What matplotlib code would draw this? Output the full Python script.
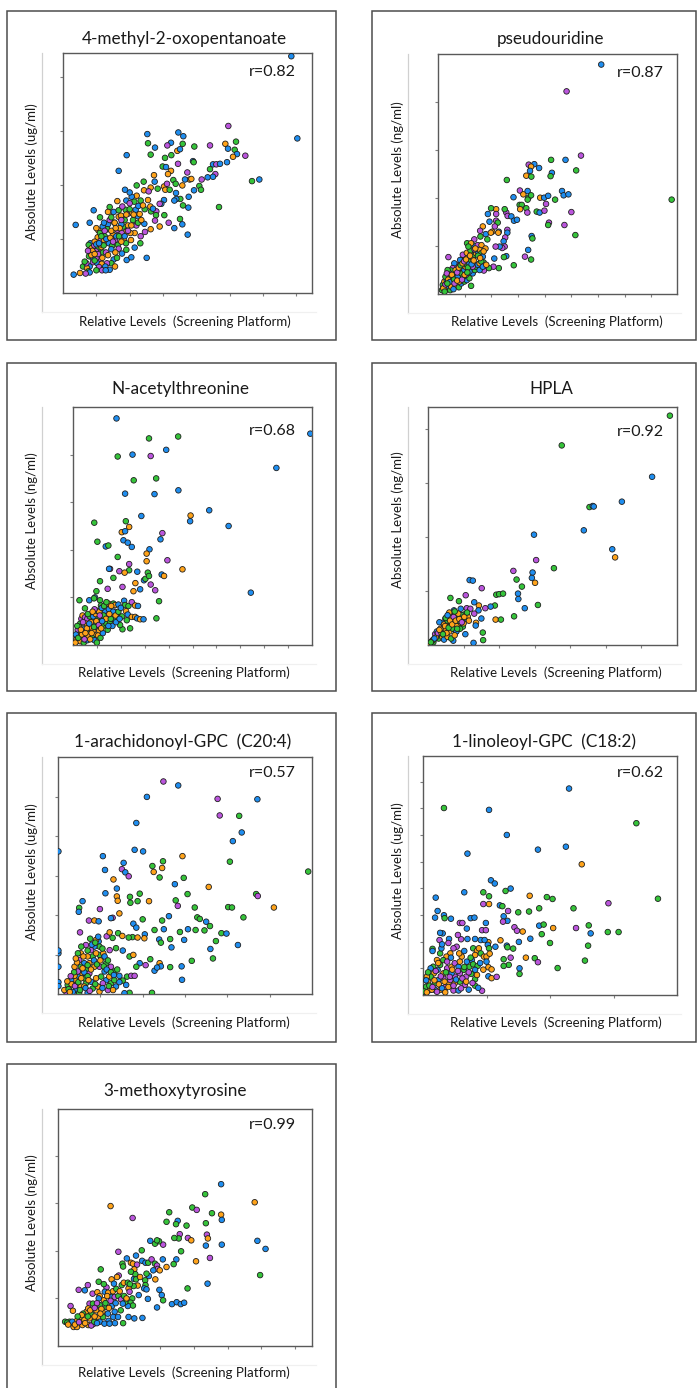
import matplotlib
matplotlib.use("Agg")
import matplotlib.pyplot as plt
from matplotlib.lines import Line2D
from matplotlib.patches import Rectangle

plt.rcParams['font.family'] = ['Lato', 'DejaVu Sans']

# ---------------------------------------------------------------------------
# Data: (relative level, absolute level, sample group) for each metabolite.
# Values are in axis-tick units of each panel.
# ---------------------------------------------------------------------------
GROUP_COLORS = {'b': '#1f8ef0', 'g': '#35c43a', 'o': '#ffa31a', 'p': '#bb55dd'}

titles = ['4-methyl-2-oxopentanoate', 'pseudouridine', 'N-acetylthreonine', 'HPLA',
          '1-arachidonoyl-GPC  (C20:4)', '1-linoleoyl-GPC  (C18:2)', '3-methoxytyrosine']
units = ['ug/ml', 'ng/ml', 'ng/ml', 'ng/ml', 'ug/ml', 'ug/ml', 'ng/ml']
r_values = [0.82, 0.87, 0.68, 0.92, 0.57, 0.62, 0.99]
x_limits = [7.47, 8.96, 10.0, 7.0, 6.0, 4.0, 7.49]
y_limits = [4.44, 5.01, 5.0, 4.4, 6.0, 8.96, 4.98]

methyl_oxopentanoate = [
    (6.85, 4.38, 'b'), (7.03, 2.86, 'b'), (4.96, 3.09, 'p'), (5.67, 2.07, 'g'), (5.89, 2.10, 'b'),
    (4.68, 1.59, 'g'), (0.38, 1.26, 'b'), (2.51, 0.65, 'b'), (1.91, 2.55, 'b'), (1.67, 2.26, 'b'),
    (0.92, 1.53, 'b'), (3.74, 1.08, 'b'), (0.32, 0.34, 'b'), (2.53, 2.94, 'b'), (2.55, 2.77, 'g'),
    (2.76, 2.69, 'b'), (2.63, 2.56, 'g'), (3.46, 2.97, 'b'), (3.61, 2.90, 'b'), (3.24, 2.78, 'b'),
    (3.13, 2.73, 'p'), (3.59, 2.76, 'g'), (3.43, 2.63, 'o'), (3.51, 2.66, 'b'), (3.94, 2.71, 'g'),
    (4.41, 2.73, 'p'), (4.87, 2.76, 'o'), (4.95, 2.67, 'b'), (5.19, 2.80, 'g'), (5.15, 2.65, 'g'),
    (5.22, 2.57, 'b'), (5.10, 2.52, 'o'), (5.47, 2.54, 'p'), (3.06, 2.50, 'g'), (3.25, 2.55, 'g'),
    (3.90, 2.44, 'b'), (3.92, 2.42, 'g'), (3.45, 2.39, 'p'), (2.99, 2.34, 'g'), (3.09, 2.33, 'b'),
    (4.50, 2.38, 'b'), (4.60, 2.38, 'p'), (4.71, 2.39, 'b'), (4.92, 2.42, 'b'), (4.41, 2.29, 'g'),
    (4.57, 2.20, 'p'), (4.34, 2.14, 'b'), (4.50, 2.15, 'b'), (4.16, 2.10, 'p'), (4.09, 1.98, 'g'),
    (4.14, 1.91, 'g'), (3.93, 1.90, 'b'), (3.80, 2.10, 'o'), (3.85, 2.11, 'o'), (3.73, 2.23, 'p'),
    (3.66, 2.10, 'b'), (3.77, 1.78, 'b'), (3.76, 1.58, 'b'), (3.60, 1.62, 'g'), (3.31, 2.09, 'g'),
    (3.24, 2.26, 'o'), (3.15, 2.20, 'o'), (2.73, 2.18, 'o'), (2.75, 2.06, 'b'), (2.63, 1.95, 'o'),
    (2.84, 1.93, 'g'), (3.03, 1.97, 'o'), (3.07, 1.91, 'o'), (3.12, 2.02, 'p'), (3.20, 1.91, 'g'),
    (3.58, 1.99, 'o'), (3.38, 2.02, 'g'), (3.52, 1.74, 'g'), (3.40, 1.74, 'b'), (3.34, 1.71, 'b'),
    (3.39, 1.85, 'b'), (3.03, 1.72, 'b'), (2.95, 1.65, 'b'), (3.04, 1.44, 'g'), (3.17, 1.30, 'p'),
    (3.34, 1.20, 'b'), (3.51, 1.37, 'g'), (3.58, 1.27, 'b'), (2.90, 1.65, 'p'), (2.80, 1.51, 'p'),
    (2.64, 1.51, 'g'), (2.79, 1.44, 'g'), (2.76, 1.34, 'p'), (2.90, 1.23, 'o'), (2.63, 1.18, 'o'),
    (2.44, 1.28, 'b'), (2.46, 1.13, 'p'), (2.25, 1.42, 'b'), (2.33, 1.71, 'g'), (2.43, 1.90, 'o'),
    (2.42, 2.06, 'g'), (2.21, 1.99, 'g'), (2.21, 1.80, 'o'), (2.06, 1.78, 'b'), (2.14, 1.69, 'g'),
    (1.90, 1.71, 'b'), (2.00, 1.86, 'b'), (1.86, 1.91, 'b'), (2.00, 1.66, 'p'), (1.88, 1.54, 'g'),
    (1.96, 1.47, 'p'), (2.07, 1.49, 'o'), (2.18, 1.54, 'b'), (2.26, 1.61, 'b'), (2.30, 1.46, 'o'),
    (2.15, 1.11, 'o'), (2.02, 1.11, 'o'), (1.90, 1.14, 'o'), (1.81, 1.23, 'g'), (1.75, 1.27, 'b'),
    (1.67, 1.41, 'o'), (1.63, 1.70, 'o'), (1.52, 1.50, 'b'), (1.54, 1.30, 'g'), (1.40, 1.59, 'g'),
    (1.63, 1.17, 'p'), (1.76, 1.11, 'p'), (1.83, 0.98, 'o'), (1.89, 0.92, 'g'), (2.04, 0.98, 'o'),
    (2.15, 0.84, 'b'), (2.32, 0.92, 'g'), (2.33, 1.05, 'p'), (1.35, 1.27, 'b'), (1.33, 1.18, 'g'),
    (1.50, 1.08, 'o'), (1.19, 1.23, 'b'), (1.11, 1.40, 'g'), (1.06, 1.16, 'o'), (1.04, 1.03, 'o'),
    (1.13, 0.97, 'p'), (1.23, 0.98, 'o'), (1.38, 0.92, 'b'), (1.47, 0.87, 'g'), (1.56, 0.98, 'p'),
    (1.65, 0.89, 'g'), (1.67, 0.82, 'p'), (0.80, 1.30, 'b'), (0.82, 0.92, 'b'), (0.77, 0.89, 'g'),
    (0.86, 0.83, 'o'), (0.94, 0.88, 'p'), (1.05, 0.82, 'g'), (0.99, 0.77, 'p'), (1.20, 0.75, 'g'),
    (1.29, 0.75, 'p'), (1.45, 0.81, 'b'), (1.57, 0.75, 'o'), (1.77, 0.73, 'b'), (1.91, 0.61, 'b'),
    (2.05, 0.66, 'b'), (1.52, 0.62, 'b'), (1.45, 0.55, 'g'), (1.32, 0.55, 'p'), (1.10, 0.62, 'p'),
    (1.00, 0.65, 'p'), (0.88, 0.65, 'b'), (0.78, 0.68, 'g'), (0.90, 0.57, 'p'), (1.03, 0.55, 'b'),
    (1.16, 0.54, 'o'), (1.27, 0.49, 'b'), (1.56, 0.49, 'o'), (1.40, 0.43, 'b'), (1.08, 0.48, 'p'),
    (1.17, 0.42, 'p'), (1.28, 0.42, 'b'), (1.00, 0.42, 'g'), (0.80, 0.49, 'b'), (0.60, 0.49, 'g'),
    (0.72, 0.46, 'o'), (0.76, 0.40, 'g'), (0.80, 0.38, 'b'), (0.68, 0.36, 'p'), (0.51, 0.37, 'o'),
    (0.93, 0.74, 'g'), (1.11, 1.11, 'g'), (1.23, 1.30, 'b'), (1.40, 1.35, 'p'), (1.67, 1.53, 'g'),
    (1.74, 1.43, 'o'), (1.78, 1.60, 'p'), (2.57, 1.88, 'p'), (2.55, 1.72, 'o'), (2.62, 1.60, 'o'),
    (2.70, 1.56, 'b'), (0.95, 0.95, 'o'), (1.15, 0.85, 'o'), (1.25, 1.05, 'g'), (1.35, 0.70, 'o'),
    (1.45, 1.15, 'o'), (1.60, 1.05, 'b'), (1.70, 1.20, 'o'), (1.85, 1.35, 'g'), (1.95, 1.25, 'o'),
    (2.10, 1.35, 'g'), (2.20, 1.25, 'p'), (1.00, 0.90, 'b'), (0.88, 0.78, 'o'), (1.18, 0.65, 'o'),
    (1.62, 0.65, 'g'), (0.70, 0.55, 'p'), (0.85, 0.70, 'o'), (0.95, 0.60, 'g'), (1.05, 0.72, 'p'),
    (1.12, 0.90, 'o'), (1.22, 0.88, 'g'), (1.30, 1.00, 'b'), (1.42, 1.02, 'o'), (1.50, 0.95, 'p'),
    (1.58, 1.20, 'o'), (1.68, 1.05, 'g'), (1.75, 0.95, 'o'), (1.85, 1.05, 'b'), (1.95, 1.15, 'p'),
    (2.05, 1.25, 'o'), (2.12, 1.45, 'o'), (2.25, 1.30, 'g'), (2.35, 1.35, 'o'), (2.45, 1.55, 'g'),
    (2.40, 1.62, 'o'), (1.55, 1.30, 'o'), (1.45, 1.40, 'g'), (1.35, 1.50, 'o'), (1.25, 1.15, 'p'),
    (1.15, 1.05, 'g'), (0.95, 0.72, 'o'), (1.08, 0.92, 'b'), (1.75, 1.35, 'p'), (1.90, 1.45, 'o'),
    (2.00, 1.55, 'g'), (0.65, 0.58, 'g'), (0.75, 0.78, 'p'), (1.00, 1.20, 'o'), (1.90, 0.80, 'g'),
]

pseudouridine = [
    (6.12, 4.79, 'b'), (4.82, 4.23, 'p'), (8.76, 1.97, 'g'), (5.36, 2.89, 'p'), (4.78, 2.80, 'b'),
    (4.24, 2.80, 'g'), (5.18, 2.58, 'g'), (4.27, 2.53, 'b'), (4.22, 2.46, 'g'), (3.61, 2.71, 'b'),
    (3.40, 2.70, 'p'), (3.49, 2.66, 'o'), (3.79, 2.63, 'b'), (3.45, 2.57, 'b'), (3.31, 2.47, 'o'),
    (3.50, 2.45, 'g'), (2.58, 2.38, 'g'), (3.07, 2.16, 'p'), (3.20, 2.08, 'o'), (3.36, 2.15, 'b'),
    (3.39, 2.01, 'g'), (3.49, 2.06, 'g'), (3.36, 1.97, 'g'), (2.83, 2.02, 'b'), (3.06, 1.86, 'g'),
    (3.14, 1.86, 'g'), (3.08, 1.77, 'o'), (3.31, 1.79, 'g'), (3.35, 1.70, 'p'), (3.70, 1.72, 'g'),
    (3.81, 1.70, 'b'), (3.83, 2.01, 'o'), (3.98, 2.01, 'b'), (4.13, 2.05, 'b'), (4.05, 1.88, 'p'),
    (3.99, 1.74, 'p'), (4.39, 1.97, 'g'), (4.65, 2.15, 'b'), (4.71, 2.06, 'b'), (4.89, 2.08, 'b'),
    (5.00, 1.71, 'p'), (4.16, 1.49, 'p'), (4.13, 1.44, 'g'), (4.74, 1.44, 'p'), (5.15, 1.23, 'g'),
    (3.51, 1.21, 'b'), (3.54, 1.16, 'g'), (3.38, 0.92, 'b'), (3.49, 0.72, 'g'), (3.26, 0.78, 'p'),
    (2.84, 0.60, 'g'), (2.56, 0.79, 'b'), (2.47, 0.77, 'g'), (2.11, 0.74, 'b'), (2.28, 0.54, 'g'),
    (2.08, 0.57, 'p'), (1.91, 0.54, 'g'), (1.72, 0.49, 'p'), (1.71, 0.66, 'g'), (2.56, 1.70, 'p'),
    (2.61, 1.63, 'p'), (2.75, 1.62, 'b'), (2.85, 1.53, 'b'), (2.96, 1.55, 'b'), (2.50, 1.77, 'g'),
    (2.18, 1.77, 'o'), (2.18, 1.67, 'p'), (1.99, 1.79, 'g'), (1.87, 1.67, 'b'), (1.93, 1.51, 'b'),
    (2.18, 1.53, 'p'), (2.24, 1.49, 'g'), (2.13, 1.41, 'p'), (2.60, 1.34, 'p'), (2.60, 1.28, 'b'),
    (2.28, 1.30, 'b'), (2.26, 1.28, 'o'), (2.03, 1.30, 'o'), (1.68, 1.41, 'o'), (1.58, 1.32, 'p'),
    (1.79, 1.25, 'b'), (1.98, 1.28, 'o'), (1.85, 1.14, 'g'), (1.59, 1.20, 'g'), (2.52, 1.18, 'p'),
    (2.46, 1.10, 'b'), (2.50, 0.99, 'p'), (2.41, 0.96, 'p'), (2.31, 0.99, 'b'), (2.16, 0.99, 'p'),
    (1.36, 1.14, 'p'), (1.09, 1.06, 'g'), (1.22, 0.99, 'o'), (1.37, 1.00, 'b'), (1.49, 1.02, 'p'),
    (1.63, 1.02, 'o'), (1.78, 0.95, 'o'), (0.39, 0.77, 'p'),
    (0.18, 0.19, 'g'), (0.24, 0.26, 'o'), (0.33, 0.29, 'b'), (0.30, 0.19, 'o'), (0.40, 0.22, 'g'),
    (0.49, 0.26, 'o'), (0.43, 0.36, 'b'), (0.55, 0.33, 'g'), (0.61, 0.40, 'o'), (0.68, 0.43, 'g'),
    (0.74, 0.36, 'b'), (0.80, 0.47, 'o'), (0.87, 0.43, 'g'), (0.93, 0.54, 'o'), (0.99, 0.50, 'b'),
    (1.03, 0.57, 'o'), (1.08, 0.61, 'g'), (1.12, 0.68, 'o'), (1.18, 0.64, 'b'), (1.24, 0.71, 'g'),
    (1.30, 0.75, 'o'), (1.37, 0.82, 'g'), (1.43, 0.85, 'o'), (1.49, 0.89, 'b'), (1.56, 0.92, 'o'),
    (1.62, 0.85, 'g'), (1.68, 0.78, 'b'), (1.71, 0.89, 'o'), (0.80, 0.61, 'p'), (0.90, 0.71, 'g'),
    (0.68, 0.57, 'p'), (0.61, 0.64, 'b'), (0.55, 0.54, 'p'), (0.49, 0.49, 'g'), (0.43, 0.43, 'p'),
    (0.36, 0.40, 'o'), (0.28, 0.36, 'g'), (0.24, 0.12, 'b'), (0.33, 0.10, 'o'), (0.43, 0.14, 'b'),
    (0.55, 0.17, 'g'), (0.68, 0.17, 'o'), (0.78, 0.14, 'g'), (0.87, 0.22, 'b'), (0.99, 0.26, 'g'),
    (1.08, 0.29, 'b'), (1.18, 0.33, 'g'), (1.30, 0.43, 'b'), (1.38, 0.50, 'g'), (1.43, 0.57, 'g'),
    (1.49, 0.61, 'b'), (1.56, 0.64, 'o'), (1.62, 0.68, 'g'), (1.30, 0.57, 'p'), (1.18, 0.47, 'b'),
    (1.05, 0.40, 'p'), (1.03, 0.75, 'g'), (1.12, 0.78, 'o'), (0.93, 0.82, 'p'), (1.08, 0.86, 'o'),
    (1.22, 0.91, 'g'), (1.37, 0.93, 'p'), (1.24, 1.06, 'o'), (1.14, 0.99, 'g'), (0.83, 0.71, 'b'),
    (0.74, 0.50, 'o'), (0.15, 0.08, 'g'), (0.46, 0.08, 'g'), (0.80, 0.26, 'o'), (0.95, 0.36, 'g'),
    (0.65, 0.26, 'p'), (0.36, 0.50, 'g'), (0.33, 0.43, 'p'), (1.24, 0.17, 'g'), (1.56, 0.50, 'b'),
    (1.68, 0.57, 'b'), (1.81, 0.61, 'o'),
    (0.20, 0.12, 'o'), (0.28, 0.20, 'p'), (0.38, 0.30, 'o'), (0.45, 0.25, 'b'), (0.52, 0.40, 'o'),
    (0.60, 0.30, 'g'), (0.66, 0.50, 'o'), (0.72, 0.45, 'p'), (0.78, 0.55, 'o'), (0.85, 0.60, 'g'),
    (0.92, 0.64, 'o'), (0.98, 0.68, 'p'), (1.05, 0.72, 'o'), (1.12, 0.55, 'g'), (1.20, 0.80, 'o'),
    (1.26, 0.62, 'b'), (1.34, 0.70, 'o'), (1.40, 0.95, 'o'), (1.50, 0.80, 'g'), (1.58, 0.75, 'o'),
    (0.50, 0.15, 'o'), (0.62, 0.22, 'p'), (0.72, 0.28, 'o'), (0.90, 0.30, 'p'), (1.00, 0.40, 'o'),
    (1.10, 0.45, 'g'), (0.35, 0.22, 'g'), (0.58, 0.10, 'b'), (0.25, 0.05, 'g'),
]

acetylthreonine = [
    (1.82, 4.76, 'b'), (3.18, 4.34, 'g'), (4.40, 4.38, 'g'), (3.90, 4.10, 'b'), (2.49, 4.00, 'b'),
    (1.87, 3.96, 'g'), (3.25, 3.97, 'p'), (9.93, 4.44, 'b'), (8.51, 3.72, 'b'), (2.54, 3.46, 'g'),
    (3.48, 3.50, 'g'), (2.18, 3.18, 'b'), (3.41, 3.17, 'b'), (4.41, 3.25, 'b'), (5.70, 2.83, 'b'),
    (4.92, 2.72, 'o'), (4.90, 2.60, 'b'), (6.51, 2.50, 'b'), (2.86, 2.71, 'b'), (0.89, 2.57, 'g'),
    (2.21, 2.60, 'g'), (2.35, 2.48, 'o'), (2.04, 2.37, 'o'), (2.18, 2.39, 'b'), (2.11, 2.20, 'b'),
    (2.29, 2.15, 'b'), (2.46, 2.06, 'b'), (1.02, 2.17, 'g'), (1.37, 2.07, 'b'), (1.48, 2.09, 'g'),
    (3.74, 2.35, 'p'), (3.66, 2.22, 'b'), (3.20, 2.01, 'b'), (3.08, 1.92, 'o'), (3.08, 1.76, 'o'),
    (1.87, 1.85, 'g'), (2.35, 1.70, 'p'), (2.35, 1.57, 'g'), (1.94, 1.55, 'p'), (2.16, 1.52, 'o'),
    (2.69, 1.54, 'b'), (3.95, 1.78, 'p'), (4.58, 1.59, 'o'), (3.71, 1.48, 'b'), (3.81, 1.45, 'o'),
    (1.55, 1.60, 'p'), (1.51, 1.60, 'b'), (1.69, 1.41, 'g'), (1.13, 1.34, 'g'), (2.61, 1.30, 'o'),
    (2.97, 1.36, 'b'), (3.03, 1.39, 'g'), (3.13, 1.52, 'g'), (3.18, 1.45, 'g'), (2.07, 1.22, 'p'),
    (2.53, 1.13, 'o'), (2.81, 1.17, 'b'), (3.25, 1.27, 'p'), (3.44, 1.15, 'p'), (1.45, 1.18, 'p'),
    (0.98, 1.13, 'g'), (0.92, 1.00, 'b'), (7.44, 1.10, 'b'), (3.60, 0.92, 'g'), (3.49, 0.56, 'g'),
    (0.27, 0.94, 'g'), (0.50, 0.77, 'g'), (0.68, 0.94, 'b'), (0.88, 0.98, 'g'), (1.13, 0.94, 'g'),
    (1.17, 0.83, 'g'), (1.38, 0.86, 'b'), (1.48, 0.87, 'o'), (1.69, 0.87, 'g'), (1.76, 0.84, 'o'),
    (1.90, 0.85, 'b'), (2.14, 0.93, 'b'), (2.18, 0.84, 'g'), (2.32, 0.82, 'g'), (2.46, 0.90, 'p'),
    (2.60, 0.83, 'o'), (2.72, 0.82, 'b'), (2.22, 0.71, 'o'), (2.29, 0.64, 'b'), (2.46, 0.59, 'o'),
    (2.60, 0.59, 'o'), (2.68, 0.56, 'b'), (2.81, 0.54, 'o'), (2.95, 0.54, 'b'), (2.25, 0.52, 'g'),
    (2.39, 0.35, 'g'), (2.07, 0.33, 'g'), (1.97, 0.42, 'g'),
    (0.15, 0.12, 'o'), (0.20, 0.20, 'b'), (0.25, 0.10, 'p'), (0.30, 0.25, 'o'), (0.35, 0.15, 'g'),
    (0.40, 0.30, 'p'), (0.45, 0.20, 'o'), (0.50, 0.35, 'b'), (0.55, 0.12, 'o'), (0.60, 0.28, 'g'),
    (0.65, 0.40, 'o'), (0.70, 0.22, 'p'), (0.75, 0.35, 'o'), (0.80, 0.50, 'g'), (0.85, 0.30, 'o'),
    (0.90, 0.45, 'b'), (0.95, 0.20, 'o'), (1.00, 0.38, 'p'), (1.05, 0.55, 'g'), (1.10, 0.30, 'o'),
    (1.15, 0.48, 'b'), (1.20, 0.60, 'o'), (1.25, 0.40, 'g'), (1.30, 0.55, 'o'), (1.35, 0.70, 'b'),
    (1.40, 0.45, 'g'), (1.45, 0.62, 'p'), (1.50, 0.75, 'b'), (1.55, 0.50, 'g'), (1.60, 0.65, 'o'),
    (1.65, 0.40, 'b'), (1.70, 0.55, 'g'), (1.75, 0.70, 'p'), (1.80, 0.48, 'b'), (1.85, 0.62, 'g'),
    (0.30, 0.45, 'g'), (0.35, 0.55, 'p'), (0.40, 0.62, 'o'), (0.50, 0.58, 'p'), (0.60, 0.55, 'p'),
    (0.70, 0.60, 'g'), (0.75, 0.48, 'o'), (0.85, 0.60, 'b'), (0.95, 0.65, 'o'), (1.00, 0.72, 'g'),
    (1.10, 0.70, 'o'), (1.20, 0.78, 'b'), (1.30, 0.82, 'g'), (0.25, 0.38, 'o'), (0.30, 0.08, 'o'),
    (0.45, 0.05, 'g'), (0.60, 0.10, 'b'), (0.65, 0.18, 'o'), (0.80, 0.15, 'g'), (0.90, 0.10, 'b'),
    (1.05, 0.20, 'o'), (1.15, 0.15, 'g'), (1.00, 0.05, 'g'), (0.20, 0.32, 'p'), (0.55, 0.45, 'o'),
    (1.25, 0.25, 'b'), (1.45, 0.32, 'g'), (0.12, 0.22, 'b'), (0.18, 0.40, 'g'), (0.90, 0.75, 'p'),
    (1.60, 0.82, 'o'), (1.40, 0.90, 'g'),
    (0.10, 0.05, 'o'), (0.22, 0.15, 'g'), (0.38, 0.22, 'o'), (0.48, 0.12, 'p'), (0.58, 0.35, 'o'),
    (0.68, 0.45, 'b'), (0.78, 0.25, 'o'), (0.88, 0.38, 'g'), (0.98, 0.50, 'o'), (1.08, 0.42, 'p'),
    (1.18, 0.35, 'o'), (1.28, 0.62, 'g'), (1.38, 0.55, 'o'), (1.48, 0.40, 'b'), (1.58, 0.55, 'g'),
    (1.68, 0.70, 'b'), (1.78, 0.62, 'o'), (1.90, 0.70, 'g'), (2.00, 0.78, 'b'), (0.42, 0.48, 'p'),
    (0.62, 0.65, 'g'), (0.82, 0.70, 'o'), (1.12, 0.62, 'p'), (0.33, 0.32, 'o'), (0.52, 0.25, 'o'),
    (0.72, 0.12, 'o'), (1.22, 0.50, 'b'), (1.52, 0.65, 'o'), (2.05, 0.60, 'g'), (1.95, 0.55, 'b'),
]

hpla = [
    (6.80, 4.24, 'g'), (3.76, 3.69, 'g'), (6.30, 3.11, 'b'), (5.45, 2.65, 'b'), (4.54, 2.55, 'g'),
    (4.63, 2.57, 'b'), (4.66, 2.56, 'b'), (4.38, 2.12, 'b'), (2.98, 2.04, 'b'), (5.18, 1.77, 'b'),
    (5.26, 1.62, 'o'), (3.04, 1.57, 'p'), (3.54, 1.42, 'g'), (2.94, 1.34, 'b'), (2.40, 1.37, 'p'),
    (2.49, 1.21, 'g'), (2.92, 1.24, 'b'), (3.01, 1.15, 'o'), (2.64, 1.08, 'g'), (2.53, 0.95, 'b'),
    (2.54, 0.85, 'b'), (2.72, 0.68, 'b'), (3.09, 0.74, 'g'), (2.42, 0.53, 'g'), (1.92, 0.93, 'g'),
    (2.00, 0.94, 'g'), (2.11, 0.95, 'g'), (1.88, 0.73, 'g'), (1.76, 0.71, 'b'), (1.61, 0.68, 'p'),
    (1.90, 0.47, 'o'), (2.05, 0.47, 'g'), (1.17, 1.20, 'b'), (1.26, 1.19, 'b'), (1.51, 1.05, 'p'),
    (1.06, 0.92, 'p'), (0.63, 0.87, 'g'), (0.87, 0.81, 'g'), (1.30, 0.79, 'b'), (1.43, 0.73, 'o'),
    (1.42, 0.64, 'b'), (1.30, 0.58, 'p'), (1.50, 0.49, 'b'), (1.35, 0.41, 'o'), (1.34, 0.36, 'b'),
    (1.54, 0.23, 'g'), (1.55, 0.09, 'g'), (1.28, 0.04, 'b'), (0.92, 0.67, 'b'), (1.09, 0.68, 'p'),
    (1.04, 0.57, 'g'), (0.88, 0.54, 'o'), (1.07, 0.49, 'b'), (1.12, 0.52, 'o'), (1.19, 0.67, 'p'),
    (0.49, 0.49, 'b'), (0.60, 0.58, 'b'), (0.65, 0.53, 'g'), (0.73, 0.64, 'b'), (0.79, 0.51, 'g'),
    (0.88, 0.40, 'o'), (0.98, 0.34, 'g'), (1.05, 0.20, 'b'), (0.72, 0.41, 'o'), (0.69, 0.31, 'g'),
    (0.71, 0.08, 'b'), (0.79, 0.25, 'o'), (0.41, 0.41, 'b'), (0.32, 0.42, 'b'),
    (0.05, 0.03, 'o'), (0.10, 0.06, 'o'), (0.15, 0.10, 'p'), (0.20, 0.12, 'o'), (0.25, 0.15, 'g'),
    (0.30, 0.20, 'o'), (0.35, 0.18, 'b'), (0.40, 0.25, 'o'), (0.45, 0.30, 'g'), (0.50, 0.28, 'o'),
    (0.55, 0.35, 'p'), (0.60, 0.40, 'o'), (0.65, 0.38, 'g'), (0.70, 0.45, 'o'), (0.75, 0.42, 'b'),
    (0.80, 0.35, 'o'), (0.85, 0.45, 'g'), (0.90, 0.50, 'o'), (0.20, 0.20, 'p'), (0.30, 0.12, 'g'),
    (0.40, 0.15, 'o'), (0.50, 0.20, 'g'), (0.60, 0.25, 'o'), (0.70, 0.30, 'g'), (0.80, 0.25, 'b'),
    (0.35, 0.30, 'o'), (0.45, 0.38, 'o'), (0.55, 0.45, 'g'), (0.65, 0.50, 'o'), (0.25, 0.25, 'b'),
    (0.15, 0.05, 'g'), (0.45, 0.10, 'b'), (0.55, 0.15, 'o'), (0.65, 0.12, 'g'), (0.75, 0.18, 'o'),
    (0.90, 0.30, 'g'), (1.00, 0.40, 'o'), (0.95, 0.55, 'g'), (0.60, 0.60, 'o'), (0.50, 0.50, 'g'),
    (0.12, 0.08, 'o'), (0.22, 0.14, 'o'), (0.28, 0.22, 'p'), (0.38, 0.22, 'o'), (0.48, 0.35, 'o'),
    (0.52, 0.22, 'o'), (0.58, 0.32, 'g'), (0.62, 0.45, 'o'), (0.68, 0.38, 'o'), (0.72, 0.52, 'p'),
    (0.78, 0.45, 'o'), (0.82, 0.30, 'g'), (0.88, 0.48, 'o'), (0.95, 0.42, 'p'), (1.02, 0.52, 'o'),
    (0.42, 0.20, 'g'), (0.32, 0.28, 'o'), (0.55, 0.55, 'b'), (0.85, 0.58, 'o'), (0.75, 0.62, 'g'),
    (1.10, 0.60, 'g'), (1.15, 0.45, 'o'), (0.18, 0.12, 'b'), (0.08, 0.05, 'g'),
]

arachidonoyl_gpc = [
    (2.49, 5.38, 'p'), (2.84, 5.28, 'b'), (2.10, 4.99, 'b'), (3.77, 4.94, 'p'), (4.71, 4.93, 'b'),
    (3.82, 4.52, 'p'), (4.28, 4.51, 'g'), (1.85, 4.33, 'b'), (4.34, 4.09, 'b'), (4.13, 3.87, 'b'),
    (1.81, 3.65, 'b'), (2.01, 3.61, 'b'), (0.01, 3.61, 'b'), (1.06, 3.49, 'b'), (2.94, 3.49, 'o'),
    (4.06, 3.35, 'g'), (1.55, 3.32, 'b'), (2.48, 3.36, 'g'), (2.23, 3.24, 'g'), (2.46, 3.19, 'o'),
    (2.26, 3.09, 'o'), (1.11, 3.14, 'b'), (1.51, 3.16, 'p'), (1.59, 3.08, 'b'), (1.67, 2.98, 'p'),
    (2.40, 2.95, 'g'), (2.97, 2.94, 'g'), (5.91, 3.10, 'g'), (1.31, 2.90, 'o'), (2.76, 2.78, 'b'),
    (3.56, 2.71, 'o'), (1.39, 2.67, 'b'), (1.12, 2.55, 'b'), (1.39, 2.47, 'o'), (1.41, 2.36, 'o'),
    (1.70, 2.46, 'g'), (1.93, 2.54, 'g'), (3.06, 2.53, 'g'), (4.68, 2.53, 'g'), (4.72, 2.48, 'p'),
    (0.58, 2.35, 'b'), (0.50, 2.18, 'g'), (0.49, 2.08, 'b'), (1.88, 2.35, 'g'), (1.71, 2.31, 'g'),
    (2.15, 2.35, 'o'), (2.78, 2.37, 'g'), (2.83, 2.23, 'p'), (5.10, 2.19, 'o'), (4.02, 2.20, 'g'),
    (4.11, 2.19, 'g'), (4.38, 1.94, 'g'), (3.23, 2.19, 'g'), (0.99, 2.15, 'p'), (1.29, 1.93, 'p'),
    (1.25, 1.92, 'b'), (0.73, 1.86, 'p'), (0.86, 1.86, 'o'), (0.96, 1.84, 'b'), (1.45, 2.04, 'o'),
    (2.00, 1.89, 'g'), (2.62, 1.97, 'b'), (2.46, 1.86, 'g'), (3.29, 1.94, 'g'), (3.35, 1.90, 'g'),
    (3.50, 1.83, 'b'), (3.59, 1.72, 'g'), (3.46, 1.61, 'g'), (3.86, 1.54, 'g'), (3.98, 1.53, 'b'),
    (3.07, 1.64, 'b'), (3.25, 1.62, 'g'), (2.88, 1.57, 'g'), (2.50, 1.64, 'b'), (2.28, 1.62, 'g'),
    (2.05, 1.51, 'b'), (1.78, 1.78, 'b'), (1.85, 1.68, 'b'), (1.76, 1.44, 'g'), (1.88, 1.43, 'o'),
    (2.04, 1.41, 'o'), (0.52, 1.56, 'p'), (0.76, 1.40, 'g'), (0.96, 1.33, 'b'), (1.15, 1.46, 'p'),
    (1.22, 1.56, 'o'), (1.29, 1.42, 'g'), (1.42, 1.54, 'g'), (1.52, 1.47, 'o'), (1.67, 1.43, 'g'),
    (2.39, 1.38, 'b'), (2.43, 1.30, 'g'), (2.65, 1.39, 'g'), (2.68, 1.18, 'b'), (2.98, 1.37, 'b'),
    (3.73, 1.34, 'g'), (4.25, 1.24, 'b'), (3.60, 1.14, 'b'), (3.66, 0.90, 'g'), (3.16, 0.84, 'g'),
    (2.92, 0.70, 'b'), (2.93, 0.36, 'b'), (2.65, 0.68, 'g'), (2.40, 0.78, 'o'), (2.43, 0.70, 'b'),
    (2.28, 0.59, 'b'), (2.34, 0.67, 'b'), (2.18, 0.88, 'g'), (2.07, 0.73, 'p'), (2.22, 0.03, 'g'),
    (1.63, 0.44, 'g'), (1.73, 0.46, 'p'), (1.81, 0.46, 'p'), (1.61, 0.23, 'b'), (1.69, 0.03, 'g'),
    (1.57, 0.02, 'b'), (1.53, 0.34, 'g'), (1.45, 0.46, 'b'), (1.33, 0.57, 'g'), (1.25, 0.69, 'p'),
    (1.14, 0.78, 'g'), (1.02, 0.90, 'b'), (0.98, 0.99, 'g'), (1.07, 1.03, 'o'), (1.22, 1.11, 'p'),
    (1.37, 1.16, 'g'), (1.53, 1.10, 'b'), (1.69, 0.95, 'g'), (1.78, 0.99, 'o'), (1.93, 0.78, 'b'),
    (1.85, 0.69, 'g'), (0.01, 1.03, 'b'), (0.01, 0.69, 'b'), (0.01, 0.30, 'b'), (0.01, 0.20, 'b'),
    (0.01, 1.10, 'b'),
    (0.19, 0.06, 'p'), (0.27, 0.19, 'o'), (0.35, 0.27, 'g'), (0.43, 0.35, 'o'), (0.50, 0.44, 'b'),
    (0.58, 0.52, 'o'), (0.66, 0.61, 'g'), (0.74, 0.78, 'o'), (0.82, 0.95, 'g'), (0.90, 1.03, 'o'),
    (0.98, 1.20, 'g'), (0.90, 1.37, 'o'), (0.86, 1.20, 'b'), (0.78, 1.11, 'p'), (0.70, 0.95, 'o'),
    (0.62, 0.78, 'b'), (0.54, 0.69, 'g'), (0.47, 0.57, 'p'), (0.39, 0.46, 'o'), (0.31, 0.35, 'b'),
    (0.23, 0.23, 'g'), (0.43, 0.10, 'b'), (0.54, 0.19, 'o'), (0.66, 0.27, 'g'), (0.78, 0.31, 'b'),
    (0.90, 0.40, 'o'), (1.02, 0.44, 'g'), (1.14, 0.35, 'b'), (1.25, 0.27, 'g'), (1.37, 0.19, 'b'),
    (1.18, 0.10, 'p'), (0.98, 0.06, 'o'), (0.82, 0.14, 'g'), (0.70, 0.03, 'b'), (0.50, 0.03, 'g'),
    (0.98, 0.69, 'p'), (0.86, 0.69, 'o'), (0.74, 0.52, 'p'), (0.62, 0.40, 'g'), (1.10, 0.57, 'b'),
    (1.21, 0.44, 'o'), (1.33, 0.35, 'g'), (1.06, 0.27, 'p'), (0.94, 0.19, 'o'), (0.62, 0.19, 'o'),
    (0.70, 0.73, 'g'), (0.54, 1.03, 'o'), (0.50, 0.86, 'p'), (0.47, 1.03, 'g'), (0.39, 0.69, 'o'),
    (0.66, 1.24, 'p'),
    (0.15, 0.10, 'o'), (0.25, 0.12, 'g'), (0.32, 0.25, 'o'), (0.40, 0.20, 'p'), (0.48, 0.30, 'g'),
    (0.55, 0.40, 'o'), (0.62, 0.55, 'b'), (0.70, 0.45, 'g'), (0.78, 0.62, 'o'), (0.85, 0.85, 'b'),
    (0.92, 0.75, 'g'), (1.00, 0.85, 'o'), (1.08, 0.70, 'g'), (1.15, 0.62, 'b'), (1.25, 0.55, 'g'),
    (1.32, 0.48, 'b'), (1.40, 0.62, 'g'), (0.60, 0.95, 'o'), (0.70, 1.10, 'g'), (0.80, 1.25, 'b'),
    (0.88, 1.30, 'g'), (0.95, 1.45, 'b'), (1.05, 1.15, 'g'), (0.45, 0.80, 'o'), (0.38, 0.55, 'g'),
    (0.30, 0.45, 'p'), (0.22, 0.32, 'o'), (0.52, 0.10, 'g'), (0.65, 0.15, 'b'), (0.75, 0.08, 'p'),
    (0.88, 0.25, 'g'), (1.05, 0.15, 'b'), (1.20, 0.20, 'g'), (1.30, 0.10, 'o'), (1.45, 0.30, 'b'),
    (0.35, 0.05, 'b'), (0.28, 0.05, 'o'), (0.58, 0.65, 'o'), (0.72, 0.35, 'o'), (1.10, 0.95, 'b'),
    (1.18, 0.85, 'g'), (0.42, 0.90, 'o'), (0.55, 1.20, 'g'),
]

linoleoyl_gpc = [
    (2.30, 7.74, 'b'), (0.33, 7.01, 'g'), (1.04, 6.94, 'b'), (3.36, 6.44, 'g'), (1.32, 6.00, 'b'),
    (1.81, 5.45, 'b'), (2.25, 5.56, 'b'), (2.50, 4.90, 'o'), (0.70, 5.30, 'b'), (1.07, 4.30, 'b'),
    (1.13, 4.18, 'b'), (0.65, 3.85, 'b'), (0.95, 3.85, 'g'), (1.04, 3.70, 'g'), (1.30, 3.90, 'g'),
    (1.38, 3.99, 'b'), (1.68, 3.72, 'o'), (1.95, 3.67, 'g'), (2.04, 3.60, 'g'), (3.70, 3.61, 'g'),
    (0.20, 3.65, 'b'), (0.95, 3.41, 'p'), (1.04, 3.41, 'o'), (1.21, 3.36, 'b'), (1.25, 3.33, 'g'),
    (1.34, 3.15, 'p'), (1.50, 3.10, 'g'), (1.67, 3.13, 'g'), (1.83, 3.25, 'g'), (2.37, 3.25, 'g'),
    (2.92, 3.44, 'p'), (0.23, 3.15, 'b'), (0.19, 2.90, 'b'), (0.33, 2.99, 'b'), (0.34, 2.88, 'g'),
    (0.44, 2.86, 'b'), (0.75, 2.88, 'b'), (0.81, 2.90, 'b'), (0.58, 2.70, 'p'), (0.62, 2.70, 'p'),
    (0.69, 2.49, 'b'), (0.93, 2.43, 'p'), (0.99, 2.43, 'p'), (0.99, 2.70, 'b'), (1.27, 2.95, 'b'),
    (1.33, 2.78, 'b'), (1.26, 2.75, 'p'), (1.44, 2.54, 'p'), (1.48, 2.41, 'p'), (1.57, 2.38, 'o'),
    (1.69, 2.11, 'b'), (1.83, 2.60, 'b'), (1.90, 2.64, 'g'), (1.87, 2.28, 'g'), (2.05, 2.51, 'o'),
    (2.41, 2.51, 'p'), (2.61, 2.61, 'g'), (2.64, 2.31, 'b'), (2.91, 2.36, 'g'), (3.08, 2.36, 'g'),
    (2.00, 1.95, 'g'), (2.60, 1.85, 'g'), (2.55, 1.29, 'g'), (2.12, 1.01, 'g'), (1.76, 1.38, 'g'),
    (1.81, 1.23, 'p'), (1.62, 1.40, 'o'), (1.51, 1.99, 'b'), (1.32, 1.85, 'b'), (1.33, 1.79, 'g'),
    (1.42, 1.74, 'g'), (1.38, 1.40, 'p'), (1.27, 1.34, 'g'), (1.35, 1.13, 'g'), (1.27, 1.09, 'g'),
    (1.52, 1.00, 'b'), (1.52, 0.79, 'g'), (1.22, 2.05, 'o'), (1.14, 1.81, 'b'), (1.03, 1.98, 'o'),
    (1.02, 1.88, 'b'), (1.04, 1.75, 'g'), (0.91, 2.06, 'b'), (0.97, 2.06, 'b'), (0.82, 2.10, 'b'),
    (0.70, 2.10, 'b'), (0.60, 2.09, 'p'), (0.41, 2.10, 'b'), (0.26, 2.06, 'p'), (0.31, 2.31, 'b'),
    (0.27, 2.33, 'b'), (0.15, 1.73, 'g'), (0.15, 1.65, 'b'), (1.03, 1.04, 'o'), (1.08, 0.96, 'o'),
    (1.03, 0.70, 'b'), (1.08, 0.63, 'o'), (1.16, 0.68, 'p'), (0.93, 0.16, 'p'), (0.82, 0.35, 'g'),
    (0.87, 0.27, 'b'), (0.48, 0.17, 'p'), (0.56, 0.17, 'b'),
    (0.79, 1.75, 'g'), (0.85, 1.66, 'o'), (0.88, 1.75, 'o'), (0.91, 1.56, 'g'), (0.96, 1.44, 'o'),
    (1.00, 1.44, 'o'), (0.82, 1.50, 'o'), (0.77, 1.31, 'b'), (0.73, 1.06, 'g'), (0.79, 1.15, 'g'),
    (0.86, 1.09, 'g'), (0.82, 0.94, 'b'), (0.76, 0.79, 'g'), (0.82, 0.59, 'g'), (0.68, 0.69, 'p'),
    (0.64, 0.94, 'g'), (0.69, 1.25, 'b'), (0.61, 1.44, 'o'), (0.57, 1.56, 'o'), (0.53, 1.81, 'p'),
    (0.48, 1.75, 'p'), (0.43, 1.56, 'o'), (0.37, 1.44, 'o'), (0.32, 1.31, 'g'), (0.27, 1.13, 'g'),
    (0.23, 0.94, 'b'), (0.17, 0.81, 'o'), (0.12, 0.69, 'g'), (0.08, 0.50, 'o'), (0.05, 0.31, 'g'),
    (0.11, 0.19, 'o'), (0.19, 0.19, 'b'), (0.27, 0.19, 'o'), (0.35, 0.29, 'p'), (0.40, 0.44, 'o'),
    (0.32, 0.63, 'p'), (0.24, 0.56, 'b'), (0.19, 0.44, 'g'), (0.38, 1.00, 'p'), (0.45, 1.06, 'o'),
    (0.50, 1.19, 'p'), (0.56, 1.06, 'b'), (0.58, 0.81, 'p'), (0.50, 0.69, 'p'), (0.45, 0.81, 'b'),
    (0.43, 0.56, 'p'), (0.50, 0.44, 'o'), (0.58, 0.50, 'g'), (0.66, 0.38, 'p'), (0.32, 0.81, 'o'),
    (0.27, 1.56, 'g'), (0.29, 1.75, 'b'), (0.22, 1.31, 'o'), (0.16, 1.06, 'g'), (0.06, 0.69, 'o'),
    (0.02, 0.13, 'g'),
    (0.06, 0.10, 'o'), (0.10, 0.35, 'g'), (0.14, 0.20, 'o'), (0.18, 0.55, 'o'), (0.22, 0.12, 'p'),
    (0.25, 0.40, 'o'), (0.28, 0.70, 'p'), (0.30, 0.25, 'b'), (0.34, 0.50, 'o'), (0.36, 0.85, 'g'),
    (0.40, 0.30, 'o'), (0.42, 0.68, 'p'), (0.46, 0.95, 'o'), (0.48, 0.35, 'p'), (0.52, 0.58, 'b'),
    (0.55, 0.90, 'p'), (0.58, 1.25, 'o'), (0.62, 0.62, 'p'), (0.65, 1.05, 'g'), (0.68, 0.50, 'o'),
    (0.72, 0.85, 'p'), (0.75, 1.40, 'g'), (0.78, 0.45, 'p'), (0.85, 0.75, 'o'), (0.90, 1.20, 'b'),
    (0.95, 0.95, 'o'), (1.00, 1.25, 'b'), (1.05, 1.55, 'o'), (0.20, 0.90, 'p'), (0.24, 1.20, 'o'),
    (0.12, 1.00, 'b'), (0.08, 0.85, 'g'), (0.38, 1.25, 'p'), (0.44, 1.40, 'b'), (0.30, 1.90, 'b'),
    (0.40, 1.95, 'p'), (0.55, 2.25, 'p'), (0.65, 1.65, 'b'), (0.15, 0.30, 'p'), (0.05, 0.55, 'b'),
    (0.35, 0.10, 'o'), (0.60, 0.25, 'p'), (0.72, 0.20, 'b'),
]

methoxytyrosine = [
    (4.81, 3.40, 'b'), (4.34, 3.19, 'g'), (5.80, 3.02, 'o'), (1.55, 2.94, 'o'), (3.96, 2.91, 'g'),
    (4.09, 2.86, 'p'), (4.54, 2.79, 'g'), (4.81, 2.76, 'o'), (4.83, 2.65, 'b'), (4.36, 2.58, 'g'),
    (3.28, 2.81, 'g'), (3.20, 2.61, 'g'), (3.53, 2.63, 'b'), (3.48, 2.56, 'g'), (2.20, 2.69, 'p'),
    (3.79, 2.53, 'g'), (3.59, 2.35, 'p'), (3.56, 2.26, 'g'), (3.43, 2.27, 'g'), (3.83, 2.27, 'p'),
    (3.93, 2.22, 'o'), (4.39, 2.34, 'p'), (4.42, 2.26, 'o'), (4.36, 2.11, 'b'), (4.83, 2.13, 'b'),
    (5.88, 2.21, 'b'), (6.12, 2.04, 'b'), (5.96, 1.49, 'g'), (4.48, 1.85, 'p'), (4.41, 1.31, 'b'),
    (3.82, 1.21, 'g'), (4.07, 1.78, 'o'), (3.63, 1.99, 'g'), (3.49, 1.82, 'b'), (3.41, 1.72, 'g'),
    (3.20, 1.66, 'o'), (3.09, 1.82, 'b'), (3.10, 2.13, 'p'), (2.98, 2.20, 'g'), (2.86, 2.15, 'g'),
    (2.92, 2.22, 'g'), (2.72, 2.21, 'b'), (2.47, 2.01, 'g'), (2.30, 1.90, 'b'), (2.03, 1.84, 'b'),
    (1.78, 1.98, 'p'), (1.90, 1.73, 'g'), (1.92, 1.67, 'g'), (2.15, 1.75, 'o'), (2.21, 1.73, 'o'),
    (2.33, 1.71, 'p'), (2.25, 1.61, 'o'), (2.48, 1.79, 'b'), (2.58, 1.75, 'b'), (2.66, 1.75, 'g'),
    (2.76, 1.82, 'p'), (2.86, 1.73, 'g'), (2.92, 1.69, 'p'), (2.94, 1.62, 'p'), (3.00, 1.59, 'o'),
    (2.81, 1.59, 'b'), (2.68, 1.47, 'b'), (2.61, 1.52, 'g'), (2.57, 1.38, 'g'), (2.58, 1.28, 'g'),
    (2.54, 1.21, 'b'), (2.61, 1.19, 'b'), (2.65, 0.99, 'b'), (2.92, 0.81, 'b'), (2.99, 1.18, 'b'),
    (3.06, 1.07, 'b'), (3.10, 0.96, 'g'), (3.36, 0.88, 'b'), (3.50, 0.92, 'b'), (3.62, 0.88, 'b'),
    (3.72, 0.91, 'b'), (2.87, 1.40, 'o'), (2.35, 1.27, 'o'), (2.38, 1.07, 'b'), (2.23, 1.26, 'g'),
    (2.24, 1.41, 'b'), (2.28, 1.51, 'g'), (2.15, 1.56, 'g'), (1.26, 1.61, 'g'), (1.20, 1.35, 'g'),
    (1.79, 1.48, 'p'), (1.74, 1.45, 'o'), (1.58, 1.40, 'o'), (1.65, 1.31, 'b'), (1.88, 1.28, 'g'),
    (1.94, 1.33, 'o'), (2.06, 1.33, 'g'), (2.08, 1.21, 'o'), (2.11, 1.14, 'p'), (2.19, 1.00, 'g'),
    (2.14, 0.91, 'g'), (2.21, 0.85, 'g'), (2.06, 0.84, 'b'), (2.08, 0.61, 'b'), (2.25, 0.58, 'b'),
    (2.49, 0.59, 'b'), (0.88, 1.28, 'p'), (0.79, 1.17, 'b'), (0.61, 1.18, 'p'), (0.37, 0.84, 'p'),
    (0.44, 0.74, 'o'), (0.93, 0.89, 'p'), (1.02, 1.10, 'p'), (1.16, 1.13, 'o'), (1.23, 1.05, 'o'),
    (1.43, 1.23, 'p'), (1.38, 1.14, 'b'), (1.48, 1.12, 'o'), (1.57, 1.03, 'b'), (1.67, 1.03, 'p'),
    (1.78, 1.05, 'g'), (1.86, 0.98, 'p'), (1.98, 0.92, 'g'), (1.91, 0.89, 'b'), (1.59, 0.84, 'b'),
    (1.67, 0.72, 'b'), (1.63, 0.61, 'b'), (1.77, 0.61, 'b'), (1.49, 0.53, 'b'), (1.31, 0.72, 'o'),
    (1.19, 0.60, 'o'), (1.04, 0.46, 'p'), (0.89, 0.44, 'o'), (0.72, 0.53, 'o'), (0.65, 0.61, 'o'),
    (0.54, 0.52, 'o'), (0.46, 0.40, 'o'), (0.34, 0.51, 'g'), (0.21, 0.51, 'g'), (0.27, 0.49, 'g'),
    (0.42, 0.51, 'b'), (0.56, 0.40, 'o'), (0.72, 0.44, 'o'), (0.98, 0.43, 'p'), (1.07, 0.51, 'g'),
    (1.23, 0.51, 'b'), (1.37, 0.47, 'b'), (1.52, 0.47, 'b'), (1.68, 0.48, 'b'), (1.92, 0.48, 'g'),
    (0.98, 0.68, 'g'), (1.13, 0.75, 'o'), (0.84, 0.72, 'o'), (0.74, 0.68, 'g'), (0.89, 0.79, 'o'),
    (1.03, 0.89, 'g'), (1.23, 0.86, 'g'), (1.43, 0.82, 'g'), (1.35, 0.96, 'o'), (1.20, 1.00, 'b'),
    (1.47, 0.68, 'b'), (1.33, 0.61, 'g'), (0.93, 0.58, 'o'), (0.82, 0.61, 'o'),
    (0.30, 0.45, 'o'), (0.50, 0.45, 'o'), (0.62, 0.50, 'p'), (0.78, 0.55, 'o'), (0.88, 0.62, 'g'),
    (0.95, 0.75, 'o'), (1.08, 0.62, 'o'), (1.15, 0.90, 'p'), (1.28, 0.78, 'o'), (1.40, 0.90, 'g'),
    (1.50, 0.80, 'o'), (1.55, 0.95, 'p'), (1.62, 1.15, 'o'), (1.72, 1.20, 'g'), (1.82, 1.15, 'o'),
    (1.95, 1.05, 'g'), (2.02, 1.00, 'o'), (2.12, 1.30, 'g'), (2.30, 1.40, 'g'), (2.42, 1.45, 'o'),
    (1.08, 0.80, 'p'), (0.70, 0.65, 'o'), (0.58, 0.62, 'g'), (1.25, 0.68, 'o'), (1.45, 1.05, 'o'),
    (1.35, 1.30, 'g'), (1.70, 0.90, 'b'), (1.85, 0.75, 'g'), (0.80, 0.48, 'o'), (1.15, 0.48, 'b'),
]

panel_points = [methyl_oxopentanoate, pseudouridine, acetylthreonine, hpla,
                arachidonoyl_gpc, linoleoyl_gpc, methoxytyrosine]

# ---------------------------------------------------------------------------
# Layout (pixel geometry of the 697 x 1388 canvas)
# ---------------------------------------------------------------------------
W, H = 697, 1388
# axes box: left, top, right, bottom
axes_px = [(63, 53, 312, 293), (438, 54, 677, 294), (73, 407, 312, 645), (428, 407, 677, 645),
           (58, 757, 312, 994), (423, 756, 677, 995), (58, 1109, 312, 1346)]
# outer frame: left, top, right, bottom
frame_px = [(7, 11, 336, 340), (372, 11, 696, 340), (7, 363, 336, 691), (372, 363, 696, 691),
            (7, 713, 336, 1042), (372, 713, 696, 1042), (7, 1064, 336, 1400)]
guide_x = [42, 408, 42, 408, 42, 408, 42]
title_px = [(184, 39), (551, 39), (180, 389), (551, 389), (183, 742), (544, 742), (175, 1091)]
xlabel_px = [(185, 322), (557, 322), (184, 673), (556, 673), (184, 1023), (556, 1023), (184, 1373)]
ylabel_px = [(32, 172), (398, 170), (32, 521), (398, 520), (32, 872), (398, 871), (32, 1223)]
rtext_px = [(296, 72), (664, 73), (296, 431), (664, 432), (296, 773), (664, 773), (296, 1125)]


def fx(px):
    return px / W


def fy(py):
    return 1.0 - py / H


fig = plt.figure(figsize=(W / 100, H / 100), dpi=100)

SPINE = '#595959'
TEXT = '#1a1a1a'

for i in range(7):
    l, t, r, b = axes_px[i]
    ax = fig.add_axes([fx(l), fy(b), (r - l) / W, (b - t) / H])

    pts = panel_points[i]
    xs = [p[0] for p in pts]
    ys = [p[1] for p in pts]
    cs = [GROUP_COLORS[p[2]] for p in pts]
    ax.scatter(xs, ys, s=16, c=cs, edgecolors='#1e1e1e', linewidths=0.6, zorder=3)

    ax.set_xlim(0, x_limits[i])
    ax.set_ylim(0, y_limits[i])
    ax.set_xticks(range(1, int(x_limits[i] - 0.05) + 1))
    ax.set_yticks(range(1, int(y_limits[i] - 0.05) + 1))
    ax.tick_params(direction='out', length=2.5, width=0.8, color='#7f7f7f',
                   labelbottom=False, labelleft=False)
    for sp in ax.spines.values():
        sp.set_color(SPINE)
        sp.set_linewidth(1.0)
    ax.set_facecolor('white')

    # light plot-area guide lines
    gx = guide_x[i]
    fig.add_artist(Line2D([fx(gx), fx(gx)], [fy(t), fy(b + 19)], color='#d0d0d0', lw=0.9))
    fig.add_artist(Line2D([fx(gx), fx(r + 4)], [fy(b + 19), fy(b + 19)], color='#f0f0f0',
                          lw=0.9))

    # outer frame
    fl, ft, fr, fb = frame_px[i]
    fig.add_artist(Rectangle((fx(fl), fy(fb)), (fr - fl) / W, (fb - ft) / H,
                             transform=fig.transFigure, fill=False,
                             edgecolor='#4d4d4d', lw=1.1))

    tx, ty = title_px[i]
    fig.text(fx(tx), fy(ty), titles[i], ha='center', va='center', fontsize=12.3, color=TEXT)
    lx, ly = xlabel_px[i]
    fig.text(fx(lx), fy(ly), 'Relative Levels  (Screening Platform)', ha='center',
             va='center', fontsize=9.5, color=TEXT)
    yx, yy = ylabel_px[i]
    fig.text(fx(yx), fy(yy), f'Absolute Levels ({units[i]})', ha='center', va='center',
             rotation=90, fontsize=9.5, color=TEXT)
    rx, ry = rtext_px[i]
    fig.text(fx(rx), fy(ry), f'r={r_values[i]:.2f}', ha='right', va='center',
             fontsize=11.5, color=TEXT)

fig.savefig('out.png', dpi=100, facecolor='white')
